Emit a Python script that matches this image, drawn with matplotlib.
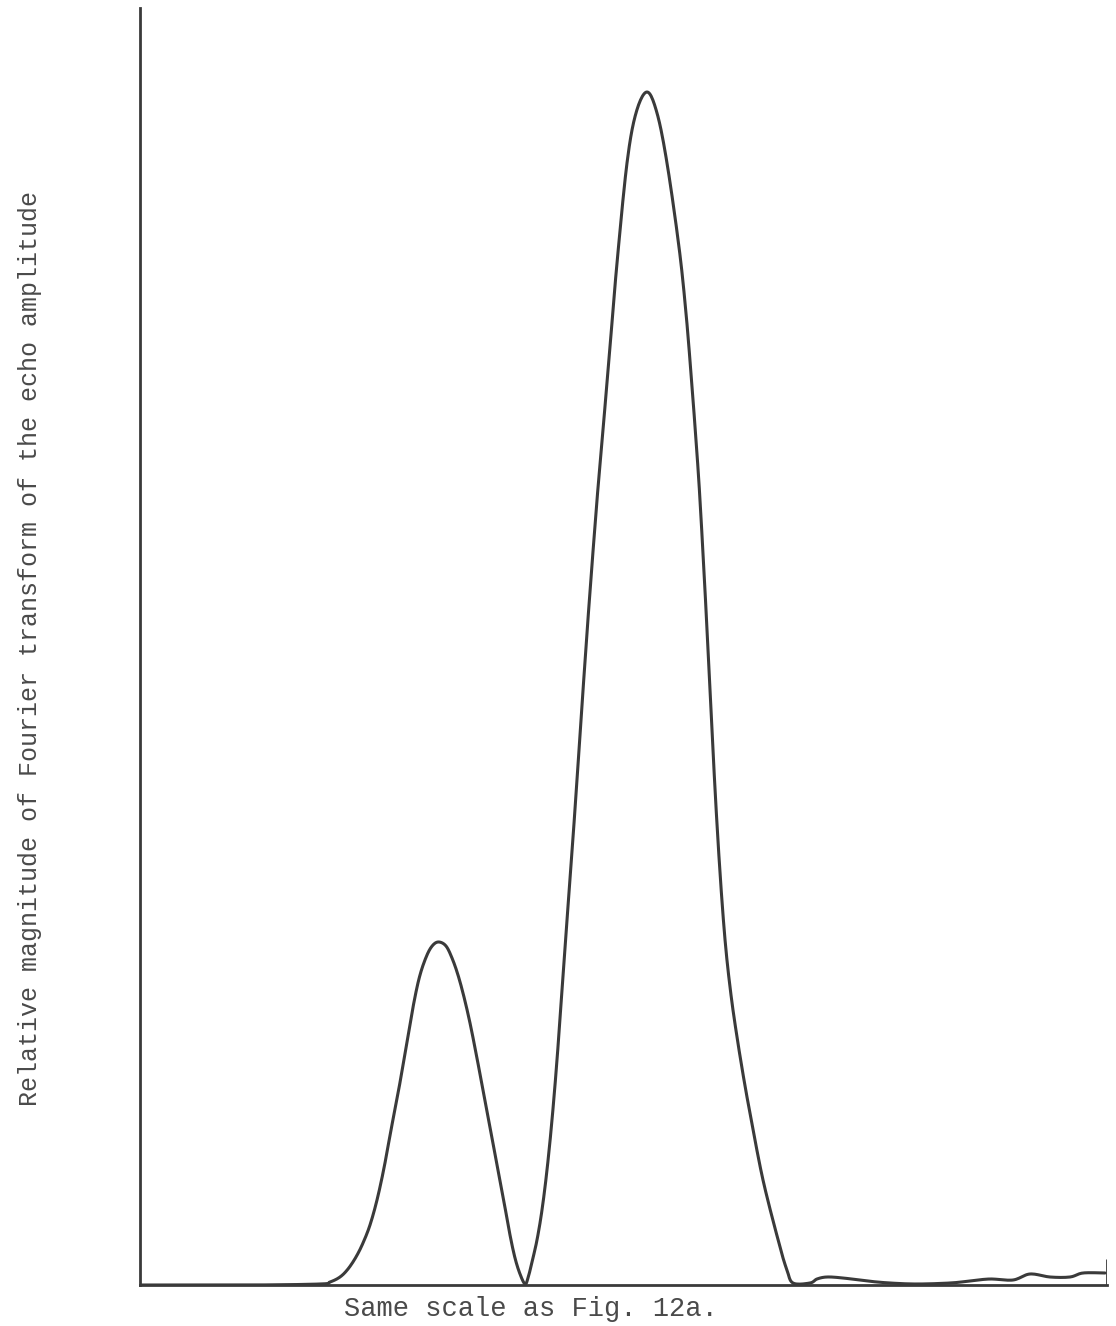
import numpy as np
import matplotlib.pyplot as plt

# trace: channel position vs. height above baseline
channel = [0, 110, 180, 190, 200, 208, 216, 223, 230, 237, 244, 251, 259, 267,
           274, 280, 287, 293, 299, 306, 312, 318, 324, 330, 336, 343, 350, 357,
           364, 370, 375, 380, 385, 388, 392, 397, 402, 407, 412, 417, 422, 427,
           432, 437, 442, 449, 457, 463, 470, 477, 487, 496, 507, 517, 527, 539,
           546, 551.5, 556.5, 560, 565.5, 570.5, 575.5, 580.5, 585.5, 591, 597,
           604, 610, 623, 640, 647, 653, 670, 677, 687, 703, 727, 750, 777, 810,
           830, 850, 873, 890, 910, 930, 943, 965]
magnitude = [0, 0, 1, 3, 8, 16, 28, 42, 60, 85, 117, 155, 197, 243, 283, 310,
             330, 340, 343, 339, 327, 310, 288, 262, 232, 195, 158, 120, 83, 50,
             27, 11, 1, 7, 23, 45, 75, 115, 165, 225, 295, 365, 433, 505, 580,
             680, 785, 855, 938, 1022, 1122, 1172, 1193, 1172, 1122, 1038, 972,
             905, 838, 785, 685, 585, 487, 405, 340, 290, 248, 205, 172, 105, 38,
             15, 2, 2, 6, 8, 7, 4, 2, 1, 2, 4, 6, 5, 11, 8, 8, 12, 12]

end_x = 967
end_mark = 26


def smooth_trace(xs, ys, n=12):
    # Catmull-Rom pass through the read points so the pen line looks continuous
    p = np.column_stack([xs, ys]).astype(float)
    p = np.vstack([p[0], p, p[-1]])
    t = np.linspace(0, 1, n, endpoint=False)[:, None]
    out = []
    for i in range(1, len(p) - 2):
        p0, p1, p2, p3 = p[i - 1], p[i], p[i + 1], p[i + 2]
        seg = 0.5 * ((2 * p1) + (-p0 + p2) * t
                     + (2 * p0 - 5 * p1 + 4 * p2 - p3) * t ** 2
                     + (-p0 + 3 * p1 - 3 * p2 + p3) * t ** 3)
        out.append(seg)
    out.append(p[-2][None, :])
    out = np.vstack(out)
    return out[:, 0], np.clip(out[:, 1], 0, None)


fig = plt.figure(figsize=(11.16, 13.26), dpi=100)
ax = fig.add_axes([140 / 1116, 41 / 1326, 967 / 1116, 1277 / 1326])

ink = '#3a3a3a'
sx, sy = smooth_trace(channel, magnitude)
ax.plot(sx, sy, color=ink, linewidth=2.2, solid_capstyle='round',
        solid_joinstyle='round')
ax.vlines(end_x, 0, end_mark, color=ink, linewidth=2.0)

ax.set_xlim(0, 967)
ax.set_ylim(0, 1277)
ax.set_xticks([])
ax.set_yticks([])
for side in ['top', 'right']:
    ax.spines[side].set_visible(False)
for side in ['left', 'bottom']:
    ax.spines[side].set_color(ink)
    ax.spines[side].set_linewidth(2.0)

fig.text(30 / 1116, 1 - 648 / 1326,
         'Relative magnitude of Fourier transform of the echo amplitude',
         rotation=90, ha='center', va='center', fontsize=18,
         family='Liberation Mono', color='#4a4a4a')
fig.text(531 / 1116, 1 - 1309 / 1326, 'Same scale as Fig. 12a.',
         ha='center', va='center', fontsize=19.5, family='Liberation Mono',
         color='#4a4a4a')

fig.savefig('out.png', dpi=100)
